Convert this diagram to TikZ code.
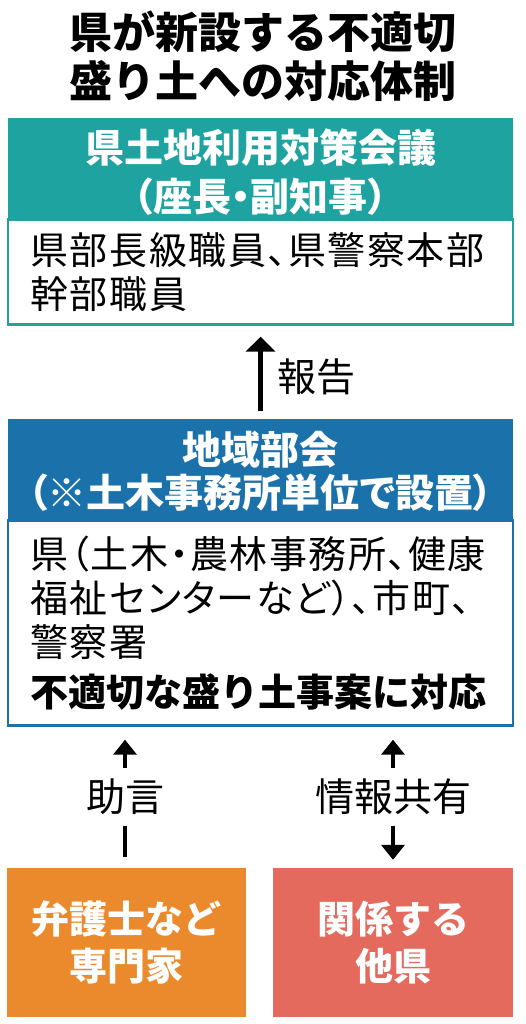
\documentclass[tikz,border=0pt]{standalone}
\usepackage{fontspec}
\setmainfont{Noto Sans CJK JP}
\newfontfamily\propfont{Noto Sans CJK JP}[RawFeature=+palt]
\newfontfamily\bodyfont{Noto Sans CJK JP}[RawFeature=+palt, LetterSpace=4]
\usetikzlibrary{arrows.meta}

\definecolor{kaigiteal}{RGB}{30,163,160}
\definecolor{bukaiblue}{RGB}{27,114,170}
\definecolor{expertorange}{RGB}{235,138,45}
\definecolor{tahkenred}{RGB}{228,106,94}

\begin{document}
\begin{tikzpicture}[x=1pt, y=-1pt,
  title/.style={align=center, inner sep=0pt, font=\fontsize{43pt}{49pt}\selectfont\bfseries},
  hdr/.style={rectangle, minimum width=505pt, inner sep=0pt, text=white, align=center, font=\propfont\fontsize{39pt}{49pt}\selectfont\bfseries},
  body/.style={rectangle, line width=2.5pt, minimum width=505pt, text width=460pt, inner xsep=22.5pt, inner ysep=0pt, align=left, font=\bodyfont\fontsize{38pt}{44pt}\selectfont},
  lbl/.style={inner sep=0pt, minimum height=57pt, font=\fontsize{39pt}{44pt}\selectfont},
  foot/.style={rectangle, minimum height=149pt, inner sep=0pt, text=white, align=center, font=\fontsize{38pt}{47pt}\selectfont\bfseries},
  arr/.style={line width=4.5pt, -{Triangle[width=29pt,length=15pt]}},
  arrsm/.style={line width=4pt, -{Triangle[width=23pt,length=15pt]}}]
\useasboundingbox (0,0) rectangle (525,1024);

\node[title] (titel) at (262.5,56) {県が新設する不適切\\盛り土への対応体制};

% prefecture council
\node[hdr, fill=kaigiteal, minimum height=100pt] (kaigi) at (260.5,168) {\rule{0pt}{42pt}県土地利用対策会議\\（座長・副知事）};
\node[body, draw=kaigiteal, minimum height=105pt, anchor=north] (kaigibody) at (kaigi.south) {県部長級職員、県警察本部\\幹部職員};

% regional subcommittee
\node[hdr, fill=bukaiblue, minimum height=100pt, font=\propfont\fontsize{39pt}{43pt}\selectfont\bfseries] (bukai) at (260.5,469) {\rule{0pt}{38pt}地域部会\\（※土木事務所単位で設置）};
\node[body, draw=bukaiblue, minimum height=205pt, anchor=north] (bukaibody) at (bukai.south) {県（土木・農林事務所、健康\\福祉センターなど）、市町、\\警察署\\[6pt]{\normalfont\fontsize{38pt}{44pt}\selectfont\bfseries 不適切な盛り土事案に対応}};

\node[lbl] (hokoku) at (316,377) {報告};
\draw[arr, shorten <=8pt, shorten >=11pt] (bukai.north) -- (kaigibody.south);

% outside partners
\node[foot, fill=expertorange, minimum width=239pt] (senmonka) at (126.5,942.5) {弁護士など\\専門家};
\node[foot, fill=tahkenred, minimum width=240pt] (tahken) at (393,942.5) {関係する\\他県};

\node[lbl] (jogen) at (125,797) {助言};
\node[lbl] (johokyoyu) at (393,797) {情報共有};

\draw[arrsm, shorten >=13pt] (jogen.north) -- (jogen.north |- bukaibody.south);
\draw[line width=4pt, shorten >=11pt] (jogen.south) -- (jogen.south |- senmonka.north);
\draw[arrsm, shorten >=13pt] (johokyoyu.north) -- (johokyoyu.north |- bukaibody.south);
\draw[arrsm, shorten >=8pt] (johokyoyu.south) -- (tahken.north);
\end{tikzpicture}
\end{document}
